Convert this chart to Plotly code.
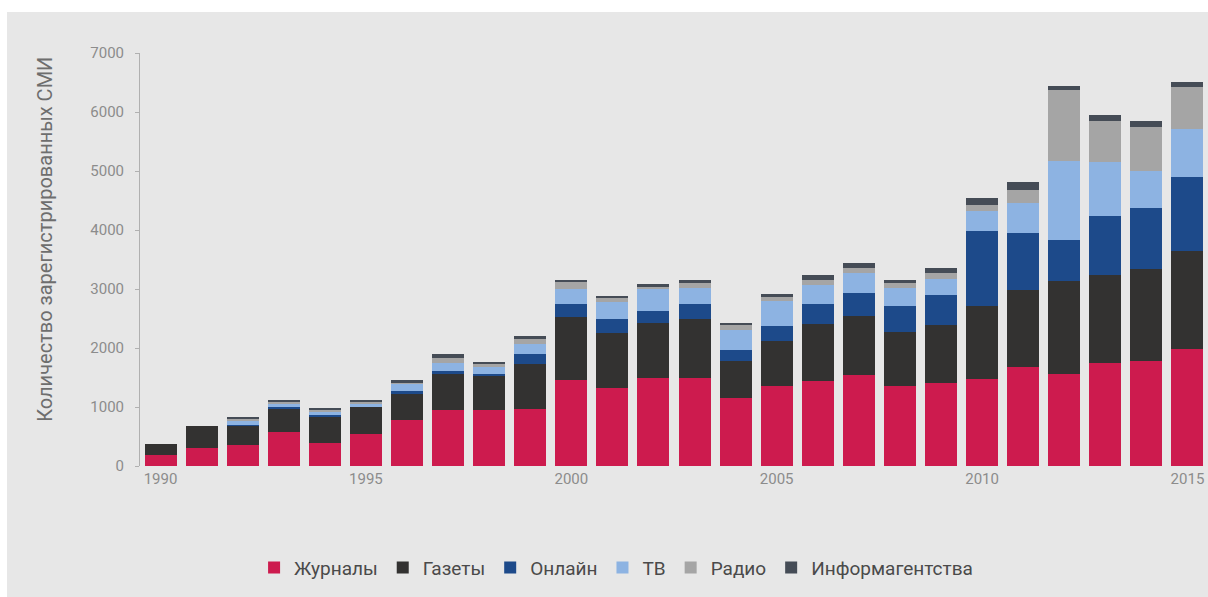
import plotly.graph_objects as go

years = list(range(1990, 2016))

# Registered media by type
zhurnaly = [180, 300, 350, 570, 390, 550, 785, 955, 955, 965, 1450, 1320, 1490, 1490, 1150,
            1360, 1435, 1550, 1360, 1405, 1470, 1670, 1565, 1745, 1775, 1985]
gazety = [190, 370, 340, 410, 450, 455, 450, 620, 565, 770, 1070, 930, 935, 1005, 625,
          755, 965, 990, 905, 990, 1240, 1320, 1570, 1485, 1570, 1660]
onlain = [0, 0, 10, 20, 20, 10, 30, 30, 45, 155, 230, 245, 210, 245, 195,
          255, 340, 395, 445, 510, 1265, 955, 695, 1010, 1035, 1245]
tv = [0, 0, 70, 60, 60, 30, 130, 140, 110, 170, 255, 285, 370, 280, 340,
      420, 330, 340, 300, 260, 350, 520, 1345, 905, 620, 820]
radio = [0, 0, 40, 30, 30, 50, 20, 85, 55, 85, 110, 60, 35, 75, 80,
         70, 90, 85, 85, 110, 95, 215, 1190, 710, 740, 710]
informagentstva = [0, 0, 20, 20, 30, 20, 45, 70, 35, 60, 45, 40, 40, 55, 20,
                   60, 85, 85, 55, 85, 130, 140, 75, 100, 100, 85]

series_names = ["Журналы", "Газеты", "Онлайн", "ТВ", "Радио", "Информагентства"]
series_values = [zhurnaly, gazety, onlain, tv, radio, informagentstva]
series_colors = ["#cd1b4e", "#333231", "#1d4a8a", "#8db3e2", "#a5a5a5", "#454c56"]

tick_years = [1990, 1995, 2000, 2005, 2010, 2015]
y_ticks = [0, 1000, 2000, 3000, 4000, 5000, 6000, 7000]
y_title = "Количество зарегистрированных СМИ"

fig = go.Figure()
for name, vals, col in zip(series_names, series_values, series_colors):
    fig.add_trace(go.Bar(x=years, y=vals, name=name, marker=dict(color=col, line=dict(width=0))))

FONT = "Roboto"
fig.update_layout(
    width=1208, height=597,
    barmode="stack", bargap=0.22,
    paper_bgcolor="#ffffff",
    plot_bgcolor="rgba(0,0,0,0)",
    margin=dict(l=140, r=0, t=53, b=131, autoexpand=False),
    font=dict(family=FONT, color="#777777"),
    shapes=[dict(type="rect", xref="paper", yref="paper",
                 x0=-0.1245, x1=1.01, y0=-0.33, y1=1.099,
                 fillcolor="#e7e7e7", line=dict(width=0), layer="below")],
    annotations=[dict(text=y_title, xref="paper", yref="paper",
                      x=-0.089, y=0.55, xanchor="center", yanchor="middle",
                      textangle=-90, showarrow=False,
                      font=dict(size=20, color="#6e6e6e", family=FONT))],
    xaxis=dict(
        range=[1989.5, 2015.5], tickmode="array", tickvals=tick_years,
        ticktext=[str(t) for t in tick_years],
        showgrid=False, zeroline=False, showline=False, ticks="",
        tickfont=dict(size=15, color="#8c8c8c", family=FONT),
        ticklabelstandoff=2,
    ),
    yaxis=dict(
        range=[0, 7000], tickmode="array", tickvals=y_ticks,
        showgrid=False, zeroline=False, showline=True, linecolor="#b0b0b0", linewidth=1,
        ticks="outside", ticklen=4, tickcolor="#b0b0b0",
        tickfont=dict(size=15, color="#8c8c8c", family=FONT),
        ticklabelstandoff=8,
    ),
    legend=dict(
        orientation="h", xref="container", yref="container",
        x=0.51, y=0.049, xanchor="center", yanchor="middle",
        font=dict(size=19, color="#4a4a4a", family=FONT),
        bgcolor="rgba(0,0,0,0)", itemwidth=30, traceorder="normal",
    ),
)

fig.write_html("out.html")
